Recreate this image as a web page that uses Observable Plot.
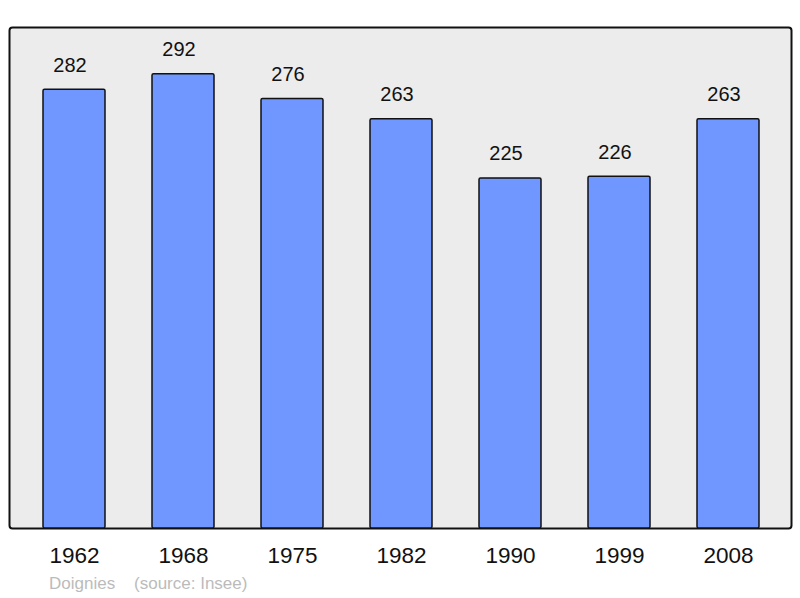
<!DOCTYPE html>
<html><head><meta charset="utf-8">
<script src="https://cdn.jsdelivr.net/npm/d3@7"></script>
<script src="https://cdn.jsdelivr.net/npm/@observablehq/plot@0.6"></script>
<style>
body{margin:0;background:#fff;font-family:"Liberation Sans",Arial,sans-serif;}
#wrap{position:relative;width:800px;height:598px;}
#cap{position:absolute;left:49px;top:574px;font-size:17px;color:#bbbbbb;white-space:pre;}
</style>
</head><body>
<div id="wrap"><div id="chart"></div><div id="cap">Doignies    (source: Insee)</div></div>
<script>
const years = ["1962","1968","1975","1982","1990","1999","2008"];
const population = [282, 292, 276, 263, 225, 226, 263];
const data = years.map((y,i)=>({year:y, pop:population[i]}));

const chart = Plot.plot({
  width: 800, height: 598,
  marginLeft: 9, marginRight: 9, marginTop: 27, marginBottom: 70,
  style: {fontFamily: '"Liberation Sans",Arial,sans-serif', background: "transparent"},
  x: {domain: years, range: [42, 761.3], paddingInner: 0.427, paddingOuter: 0, label: null},
  y: {domain: [0, 322], axis: null},
  marks: [
    Plot.frame({fill: "#ececec", stroke: "#111", strokeWidth: 2, rx: 3}),
    Plot.barY(data, {x: "year", y: "pop", fill: "#7096ff", stroke: "#111", strokeWidth: 1.5, rx: 1.5, inset: 0}),
    Plot.text(data, {x: "year", y: "pop", text: d => String(d.pop), lineAnchor: "bottom", dy: -18, dx: -4.5, fontSize: 20, fill: "#111"}),
    Plot.axisX({tickSize: 0, tickPadding: 19, fontSize: 22.5, color: "#111", label: null})
  ]
});
document.getElementById("chart").appendChild(chart);
</script>
</body></html>
